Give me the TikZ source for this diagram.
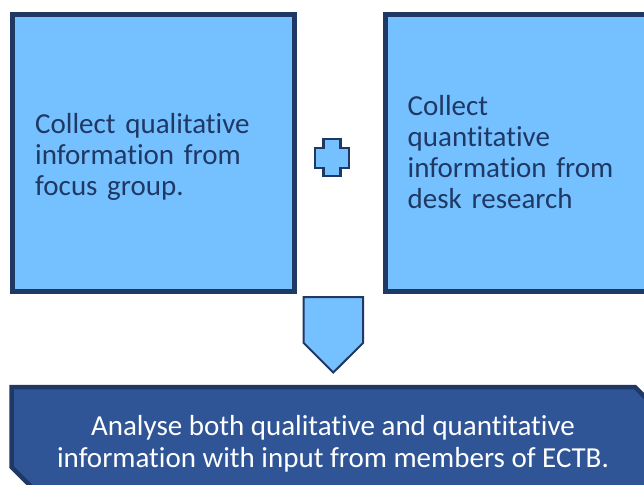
\documentclass[tikz,border=0pt]{standalone}
\usepackage{fontspec}
\setmainfont{Carlito}[Ligatures={NoCommon}]
\definecolor{lightfill}{HTML}{75C1FF}
\definecolor{darkline}{HTML}{1F3864}
\definecolor{darkfill}{HTML}{2F5597}
\tikzset{
  topbox/.style={fill=lightfill, draw=darkline, line width=5pt},
  smallshape/.style={fill=lightfill, draw=darkline, line width=2.5pt, line join=miter},
  boxtext/.style={inner sep=0pt, anchor=base west, text width=260pt, align=left,
     text=darkline, font=\fontsize{29}{31}\selectfont},
  bottomtext/.style={inner sep=0pt, anchor=base, align=center,
     text=white, font=\fontsize{29}{32}\selectfont}
}
\begin{document}
\begin{tikzpicture}[x=1pt,y=-1pt]
\useasboundingbox (0,0) rectangle (644,484);
\begin{scope}
\clip (0,0) rectangle (644,484);
% top boxes
\draw[topbox] (12.5,14.5) rectangle (294.5,291.5);
\draw[topbox] (385.5,14.5) rectangle (700,291.5);
% plus sign
\draw[smallshape] (323.5,139.2) -- (340.5,139.2) -- (340.5,148) -- (348.8,148)
   -- (348.8,168) -- (340.5,168) -- (340.5,175.8) -- (323.5,175.8) -- (323.5,168)
   -- (315.2,168) -- (315.2,148) -- (323.5,148) -- cycle;
% down pentagon arrow
\draw[smallshape, line width=2pt] (303.7,297.2) -- (363,297.2) -- (363,343) -- (333.3,372.5)
   -- (303.7,343) -- cycle;
% bottom box
\draw[fill=darkfill, draw=darkline, line width=4.5pt, line join=miter]
   (11.5,387) -- (635,387) -- (665,417) -- (665,500) -- (44.5,500) -- (11.5,467) -- cycle;
\end{scope}
% texts
\node[boxtext] (lefttext) at (35,133.3) {Collect qualitative\\information from\\focus group.};
\node[boxtext] (righttext) at (407.5,115) {Collect\\quantitative\\information from\\desk research};
\node[bottomtext] (bottomtextA) at (333,435) {Analyse both qualitative and quantitative};
\node[bottomtext] (bottomtextB) at (333,467) {information with input from members of ECTB.};
\end{tikzpicture}
\end{document}
